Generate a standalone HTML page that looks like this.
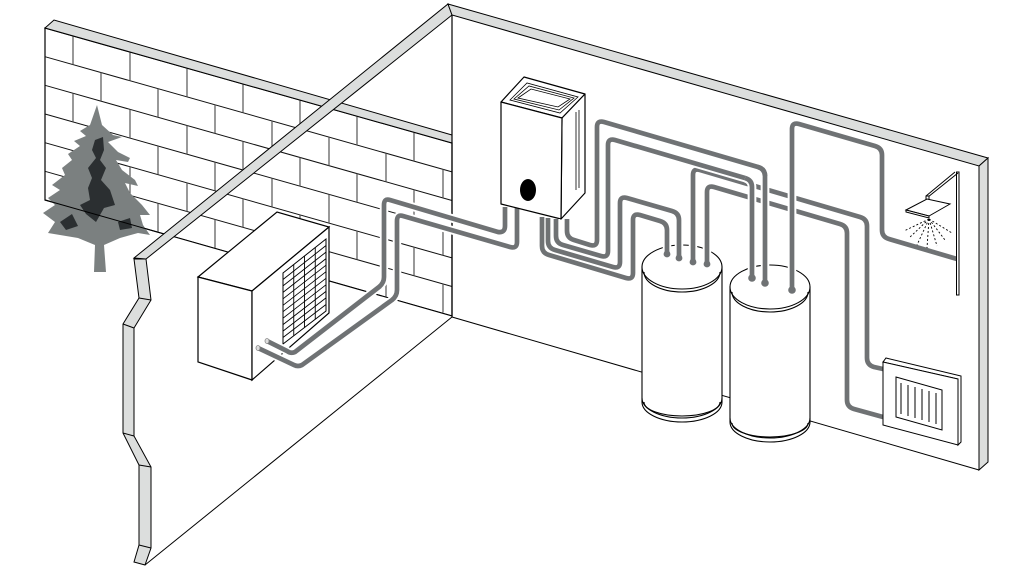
<!DOCTYPE html>
<html><head><meta charset="utf-8"><style>
html,body{margin:0;padding:0;background:#fff;}
svg{display:block;}
</style></head><body>
<svg width="1015" height="571" viewBox="0 0 1015 571" xmlns="http://www.w3.org/2000/svg">
<rect width="1015" height="571" fill="#fff"/>
<polygon points="45,28 452,143 452,316 45,200" fill="#fff" stroke="#000" stroke-width="1.2"/>
<g stroke="#111" stroke-width="1" fill="none">
<line x1="45" y1="56.7" x2="452" y2="171.9"/>
<line x1="45" y1="85.3" x2="452" y2="200.5"/>
<line x1="45" y1="114" x2="452" y2="229.2"/>
<line x1="45" y1="142.7" x2="452" y2="257.9"/>
<line x1="45" y1="171.3" x2="452" y2="286.5"/>
</g>
<path stroke="#555" stroke-width="1.2" fill="none" d="
M73,35.9V64.6M130,52.1V80.8M187,68.2V96.9M243,84V112.7M300,100.2V128.9M357,116.3V145M414,132.4V161.1
M101,72.5V101.1M158,88.7V117.3M215,104.8V133.4M272,120.9V149.5M329,137.1V165.7M386,153.2V181.8M443,169.3V197.9
M73,93.2V121.9M130,109.4V138.1M187,125.5V154.2M243,141.3V170M300,157.5V186.2M357,173.6V202.3M414,189.7V218.4
M101,129.8V158.4M158,146V174.6M215,162.1V190.7M272,178.2V206.8M329,194.4V223M386,210.5V239.1M443,226.6V255.2
M73,150.5V179.2M130,166.7V195.4M187,182.8V211.5M243,198.6V227.3M300,214.8V243.5M357,230.9V259.6M414,247V275.7
M101,187.1V215.7M158,203.3V231.9M215,219.4V248M272,235.5V264.1M329,251.7V280.3M386,267.8V296.4M443,283.9V312.5"/>
<polygon points="45,28 54,20 452,135 452,143" fill="#dcdedd" stroke="#000" stroke-width="1"/>
<polygon fill="#7b8080" points="97,105 102,125 113,135 122,137 108,142 118,152 130,158 128,162 116,160 122,170 135,180 138,186 125,183 130,193 142,205 150,215 140,215 143,225 150,235 138,233 120,238 104,245 106,272 94,272 95,245 78,238 60,235 48,233 55,222 43,213 55,205 48,198 60,190 52,185 65,175 62,168 72,160 68,154 80,146 74,141 86,136 80,131 90,125"/>
<polygon fill="#2b2f31" points="95,140 103,137 104,150 100,160 106,168 101,180 110,190 115,205 104,208 96,222 86,214 80,205 90,200 88,188 92,178 88,168 96,158 92,150"/>
<polygon fill="#2b2f31" points="60,222 72,214 78,226 66,230"/>
<polygon fill="#2b2f31" points="118,222 130,218 132,228 120,230"/>
<polygon points="146,259 151,300 134,328 134,436 151,467 151,548 145,565 452,317 452,316 171,236" fill="#fff"/>
<line x1="45" y1="200" x2="452" y2="316" stroke="#000" stroke-width="1"/>
<line x1="145" y1="565" x2="452" y2="317" stroke="#000" stroke-width="1"/>
<polygon points="134,258 448,4 452,15 146,259" fill="#dcdedd" stroke="#000" stroke-width="1"/>
<polygon points="134,259 146,259 151,300 134,328 134,436 151,467 151,548 145,565 134,562 139,545 139,465 123,433 123,324 139,298" fill="#dcdedd" stroke="#000" stroke-width="1"/>
<g stroke="#000" stroke-width="1"><line x1="139" y1="298" x2="151" y2="300"/><line x1="123" y1="324" x2="134" y2="328"/><line x1="123" y1="433" x2="134" y2="436"/><line x1="139" y1="465" x2="151" y2="467"/><line x1="139" y1="545" x2="151" y2="548"/></g>
<polygon points="448,4 988,158 979,166 452,15" fill="#dcdedd" stroke="#000" stroke-width="1"/>
<polygon points="979,166 988,158 988,462 979,470" fill="#dcdedd" stroke="#000" stroke-width="1"/>
<line x1="452" y1="15" x2="452" y2="317" stroke="#000" stroke-width="1.2"/>
<line x1="452" y1="317" x2="979" y2="470" stroke="#000" stroke-width="1"/>
<polygon points="198,277 277,212 329,227 252,291" fill="#fff" stroke="#000" stroke-width="1.2"/>
<polygon points="198,277 252,291 252,380 198,362" fill="#fff" stroke="#000" stroke-width="1.2"/>
<polygon points="252,291 329,227 329,313 252,380" fill="#fff" stroke="#000" stroke-width="1.2"/>
<polygon points="283,273 326,239 326,311 283,344" fill="#fff" stroke="#000" stroke-width="1"/>
<g stroke="#000" stroke-width="0.9">
<line x1="283" y1="279.5" x2="326" y2="245.5"/><line x1="283" y1="285.9" x2="326" y2="252.1"/><line x1="283" y1="292.4" x2="326" y2="258.6"/><line x1="283" y1="298.8" x2="326" y2="265.2"/><line x1="283" y1="305.3" x2="326" y2="271.7"/><line x1="283" y1="311.7" x2="326" y2="278.3"/><line x1="283" y1="318.2" x2="326" y2="284.8"/><line x1="283" y1="324.6" x2="326" y2="291.4"/><line x1="283" y1="331.1" x2="326" y2="297.9"/><line x1="283" y1="337.5" x2="326" y2="304.5"/>
<line x1="293.75" y1="264.5" x2="293.75" y2="335.8"/><line x1="304.5" y1="256" x2="304.5" y2="327.5"/><line x1="315.25" y1="247.5" x2="315.25" y2="319.3"/>
</g>
<g fill="none" stroke-linejoin="round">
<g stroke="#fff" stroke-width="8.5">
<path d="M505,207 V226 Q505,233 498,232 L390,200 Q384,198 384,205 V277 Q384,283 379,287 L295,352 Q291,354 287,351 L267,341"/>
<path d="M517,207 V242 Q517,249 510,247 L403,216 Q397,214 397,221 V290 Q397,296 392,300 L302,365 Q298,367 294,365 L258,348"/>
</g>
<g stroke="#6f7274" stroke-width="4.7">
<path d="M505,207 V226 Q505,233 498,232 L390,200 Q384,198 384,205 V277 Q384,283 379,287 L295,352 Q291,354 287,351 L267,341"/>
<path d="M517,207 V242 Q517,249 510,247 L403,216 Q397,214 397,221 V290 Q397,296 392,300 L302,365 Q298,367 294,365 L258,348"/>
</g>
</g>
<ellipse cx="267" cy="341" rx="2" ry="2.5" fill="#ddd" stroke="#888" stroke-width="0.8"/>
<ellipse cx="258" cy="348" rx="2" ry="2.5" fill="#ddd" stroke="#888" stroke-width="0.8"/>
<g stroke="#000" stroke-width="1.1" fill="#fff">
<path d="M642,267 V402 A40,20 0 0 0 722,402 V267 Z"/>
<path d="M644,402 A38,14 0 0 0 720,402" fill="none"/>
<path d="M642,398 A40,20 0 0 0 722,398" fill="none"/>
<ellipse cx="682" cy="267" rx="40" ry="22"/>
<path d="M644,272 A38,20 0 0 0 720,272" fill="none"/>
</g>
<g stroke="#000" stroke-width="1.2" fill="#fff" stroke-linejoin="round">
<polygon points="501,102 524,77 585,94 562,118"/>
<polygon points="562,118 585,94 585,193 561,219"/>
<polygon points="501,102 562,118 561,219 501,204"/>
</g>
<g stroke="#000" stroke-width="0.8" fill="none">
<polygon points="510,100 527,83 578,97 560,113"/>
<polygon points="514,99 529,86 574,98 559,110"/>
<polygon points="518,98 531,89 570,99 558,107"/>
<line x1="576" y1="112" x2="576" y2="190"/><line x1="579" y1="110" x2="579" y2="188"/>
</g>
<ellipse cx="528" cy="190" rx="8" ry="11" fill="#000"/>
<g fill="none" stroke-linejoin="round">
<g stroke="#fff" stroke-width="8.5">
<path d="M693,262 V175 Q693,168 700,170 L860,217 Q867,219 867,226 V358 Q867,365 874,367 L883,369"/>
<path d="M707,264 V192 Q707,185 714,187 L840,224 Q847,226 847,233 V400 Q847,407 854,409 L883,417"/>
</g>
<g stroke="#6f7274" stroke-width="4.7">
<path d="M693,262 V175 Q693,168 700,170 L860,217 Q867,219 867,226 V358 Q867,365 874,367 L883,369"/>
<path d="M707,264 V192 Q707,185 714,187 L840,224 Q847,226 847,233 V400 Q847,407 854,409 L883,417"/>
</g>
<g stroke="#fff" stroke-width="8.5">
<path d="M542,217 V246 Q542,253 549,255 L626,278 Q633,280 633,273 V220 Q633,213 640,215 L660,221 Q667,223 667,230 V253"/>
<path d="M548,218 V241 Q548,248 555,250 L613,267 Q620,269 620,262 V203 Q620,196 627,198 L672,211 Q679,213 679,220 V258"/>
<path d="M556,219 V236 Q556,243 563,245 L601,256 Q608,258 608,251 V145 Q608,138 615,140 L745,178 Q752,180 752,187 V277"/>
<path d="M567,219 V231 Q567,238 574,240 L590,245 Q597,247 597,240 V127 Q597,120 604,122 L758,167 Q765,169 765,176 V282"/>
<path d="M792,289 V129 Q792,122 799,124 L875,146 Q882,148 882,155 V230 Q882,237 889,239 L957,259"/>
</g>
<g stroke="#6f7274" stroke-width="4.7">
<path d="M542,217 V246 Q542,253 549,255 L626,278 Q633,280 633,273 V220 Q633,213 640,215 L660,221 Q667,223 667,230 V253"/>
<path d="M548,218 V241 Q548,248 555,250 L613,267 Q620,269 620,262 V203 Q620,196 627,198 L672,211 Q679,213 679,220 V258"/>
<path d="M556,219 V236 Q556,243 563,245 L601,256 Q608,258 608,251 V145 Q608,138 615,140 L745,178 Q752,180 752,187 V277"/>
<path d="M567,219 V231 Q567,238 574,240 L590,245 Q597,247 597,240 V127 Q597,120 604,122 L758,167 Q765,169 765,176 V282"/>
</g>
</g>
<g fill="#6f7274"><circle cx="667" cy="254" r="3.4"/><circle cx="679" cy="258" r="3.4"/><circle cx="693" cy="262" r="3.4"/><circle cx="707" cy="264" r="3.4"/></g>
<g stroke="#000" stroke-width="1.1" fill="#fff">
<path d="M730,287 V422 A40,20 0 0 0 810,422 V287 Z"/>
<path d="M732,423 A38,14 0 0 0 808,423" fill="none"/>
<path d="M730,418 A40,20 0 0 0 810,418" fill="none"/>
<ellipse cx="770" cy="287" rx="40" ry="22"/>
<path d="M732,292 A38,20 0 0 0 808,292" fill="none"/>
</g>
<g fill="none" stroke-linejoin="round">
<path stroke="#fff" stroke-width="8.5" d="M752,277 V187 Q752,180 745,178 M765,282 V176"/>
<path stroke="#6f7274" stroke-width="4.7" d="M752,278 V187 Q752,180 745,178 M765,283 V176 Q765,169 758,167"/>
<path stroke="#fff" stroke-width="8.5" d="M792,289 V140"/>
<path stroke="#6f7274" stroke-width="4.7" d="M792,289 V129 Q792,122 799,124 L875,146 Q882,148 882,155 V230 Q882,237 889,239 L957,259"/>
</g>
<g fill="#6f7274"><circle cx="752" cy="278" r="3.8"/><circle cx="765" cy="283" r="3.8"/><circle cx="792" cy="290" r="3.8"/></g>
<g stroke="#000" stroke-width="1" fill="#fff">
<polygon points="886,358 961,376 961,442 958,445 958,379 883,362"/>
<polygon points="883,362 958,379 958,445 883,425"/>
<polygon points="896,377 942,390 942,430 896,417"/>
<path d="M901,383V414M908,385V416M915,387V418M922,389V420M929,391V422M936,393V424"/>
</g>
<g stroke="#000" stroke-width="1" fill="#fff">
<rect x="956.5" y="172" width="2.5" height="123"/>
<line x1="958" y1="173" x2="928" y2="197"/>
<line x1="955" y1="172" x2="926" y2="196"/>
<rect x="926" y="196" width="3" height="12"/>
<polygon points="906,210 927,199 950,204 929,216"/>
<polygon points="906,210 929,216 929,218 906,212"/>
</g>
<g stroke="#000" stroke-width="0.9" stroke-dasharray="2,2" fill="none">
<path d="M929,219 L904,231 M929,219 L909,238 M929,219 L917,245 M929,219 L927,248 M929,219 L937,246 M929,219 L945,240 M929,219 L952,233"/>
</g>
</svg>
</body></html>
